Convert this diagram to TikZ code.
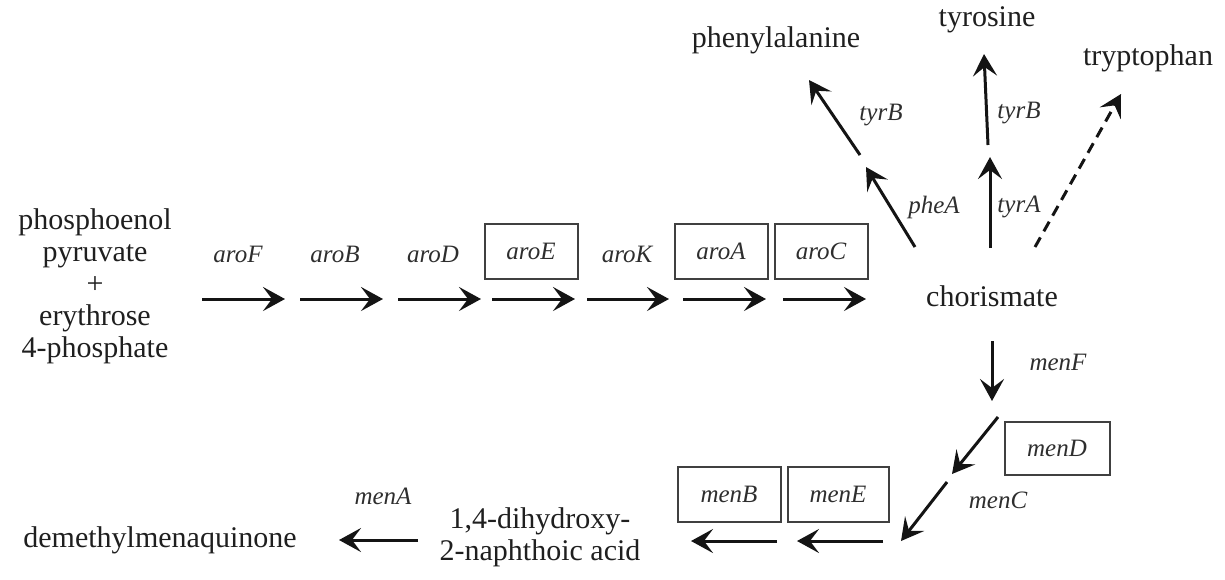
\documentclass[tikz,border=0pt]{standalone}
\usepackage{fontspec}
\setmainfont{Liberation Serif}
\usetikzlibrary{arrows.meta}
\begin{document}
\begin{tikzpicture}[x=1pt,y=-1pt,
  txt/.style={font=\fontsize{30}{32}\selectfont, align=center, inner sep=0pt, text=black!88},
  gene/.style={font=\fontsize{25}{28}\selectfont\itshape, inner sep=0pt, text=black!82},
  genebox/.style={draw=black!75, line width=2pt, minimum width=93pt, minimum height=55pt,
                  inner sep=0pt, font=\fontsize{25}{28}\selectfont\itshape, text=black!82},
  rxn/.style={line width=3pt, draw=black!92, -{Stealth[length=22pt,width=24pt,inset=9pt]}},
  rxndash/.style={rxn, dash pattern=on 11pt off 7pt},
]
\useasboundingbox (0,0) rectangle (1225,579);

% metabolites
\node[txt] (pep) at (95,286) {phosphoenol\\pyruvate\\+\\erythrose\\4-phosphate};
\node[txt] (chor) at (992,296) {chorismate};
\node[txt] (phe) at (776,40) {phenylalanine};
\node[txt] (tyr) at (987,20) {tyrosine};
\node[txt] (trp) at (1148,58) {tryptophan};
\node[txt] (dhna) at (540,537) {1,4-dihydroxy-\\2-naphthoic acid};
\node[txt] (dmk) at (160,540) {demethylmenaquinone};

% aro chain
\coordinate (c0) at (202,299); \coordinate (d0) at (285,299);
\coordinate (c1) at (300,299); \coordinate (d1) at (383,299);
\coordinate (c2) at (398,299); \coordinate (d2) at (481,299);
\coordinate (c3) at (492,299); \coordinate (d3) at (575,299);
\coordinate (c4) at (587,299); \coordinate (d4) at (669,299);
\coordinate (c5) at (683,299); \coordinate (d5) at (766,299);
\coordinate (c6) at (783,299); \coordinate (d6) at (866,299);
\foreach \i in {0,...,6} {\draw[rxn] (c\i) -- (d\i);}

\node[gene] (aroF) at (238,254) {aroF};
\node[gene] (aroB) at (335,254) {aroB};
\node[gene] (aroD) at (433,254) {aroD};
\node[genebox] (aroE) at (531,251) {aroE};
\node[gene] (aroK) at (627,254) {aroK};
\node[genebox] (aroA) at (721,251) {aroA};
\node[genebox] (aroC) at (821,251) {aroC};

% branch to phenylalanine
\coordinate (p0) at (915,247); \coordinate (p1) at (866,167);
\coordinate (p2) at (860,155); \coordinate (p3) at (809,80);
\draw[rxn] (p0) -- (p1);
\draw[rxn] (p2) -- (p3);
\node[gene] (pheA) at (934,207) {pheA};
\node[gene] (tyrBa) at (881,115) {tyrB};

% branch to tyrosine
\coordinate (t0) at (990,248); \coordinate (t1) at (990,157);
\coordinate (t2) at (988,145); \coordinate (t3) at (984,54);
\draw[rxn] (t0) -- (t1);
\draw[rxn] (t2) -- (t3);
\node[gene] (tyrA) at (1019,207) {tyrA};
\node[gene] (tyrBb) at (1019,113) {tyrB};

% branch to tryptophan
\coordinate (w0) at (1035,247); \coordinate (w1) at (1121,94);
\draw[rxndash] (w0) -- (w1);

% men chain
\coordinate (m0) at (992,341); \coordinate (m1) at (992,401);
\draw[rxn] (m0) -- (m1);
\node[gene] (menF) at (1058,362) {menF};
\node[genebox, minimum width=105pt, minimum height=53pt] (menD) at (1057,448) {menD};
\coordinate (m2) at (998,417); \coordinate (m3) at (952,474);
\coordinate (m4) at (947,482); \coordinate (m5) at (901,541);
\draw[rxn] (m2) -- (m3);
\draw[rxn] (m4) -- (m5);
\node[gene] (menC) at (998,500) {menC};

\node[genebox, minimum width=103pt] (menB) at (729,494) {menB};
\node[genebox, minimum width=101pt] (menE) at (838,494) {menE};
\coordinate (e0) at (883,541); \coordinate (e1) at (797,541);
\coordinate (b0) at (777,541); \coordinate (b1) at (691,541);
\draw[rxn] (e0) -- (e1);
\draw[rxn] (b0) -- (b1);

\coordinate (n0) at (418,540); \coordinate (n1) at (339,540);
\draw[rxn] (n0) -- (n1);
\node[gene] (menA) at (383,496) {menA};
\end{tikzpicture}
\end{document}
